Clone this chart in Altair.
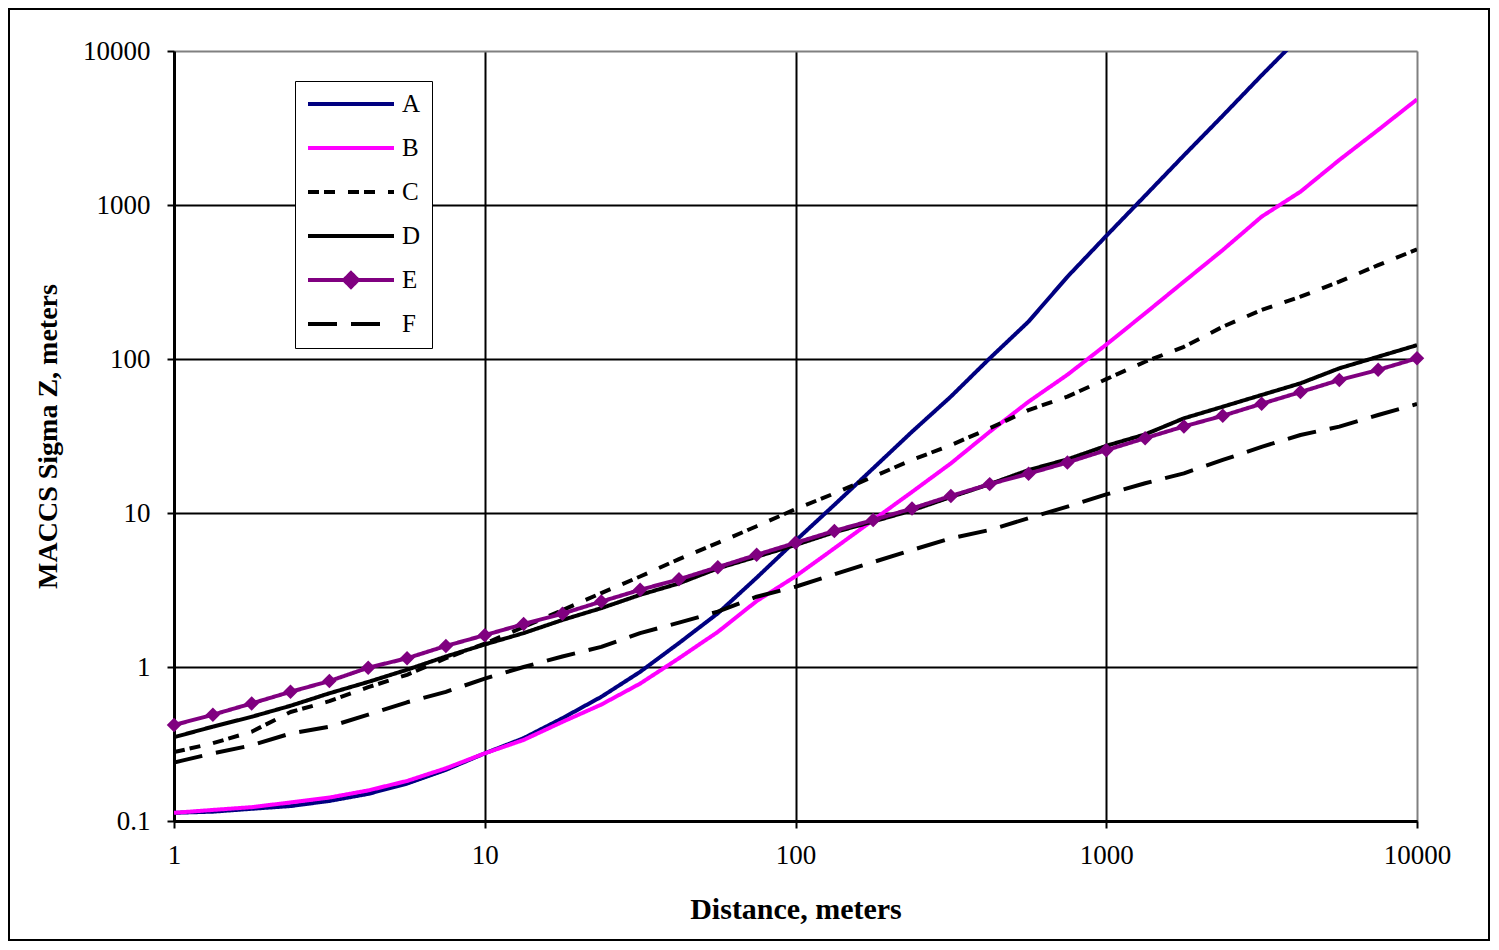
import altair as alt
import pandas as pd

# Distance grid (8 points per decade), meters
distance = [1, 1.334, 1.778, 2.371, 3.162, 4.217, 5.623, 7.499,
            10, 13.34, 17.78, 23.71, 31.62, 42.17, 56.23, 74.99,
            100, 133.4, 177.8, 237.1, 316.2, 421.7, 562.3, 749.9,
            1000, 1334, 1778, 2371, 3162, 4217, 5623, 7499, 10000]

sigma_a = [0.113, 0.115, 0.120, 0.125, 0.135, 0.150, 0.175, 0.215,
           0.275, 0.345, 0.465, 0.64, 0.93, 1.43, 2.23, 3.8,
           6.6, 11.3, 19.5, 33.7, 57, 101, 175, 342,
           630, 1150, 2100, 3800, 6950, 12500]
sigma_b = [0.113, 0.118, 0.123, 0.132, 0.142, 0.158, 0.182, 0.220,
           0.275, 0.336, 0.44, 0.57, 0.78, 1.14, 1.69, 2.68,
           3.88, 5.9, 9.0, 13.7, 21.0, 33.7, 52.8, 79,
           124, 198, 318, 510, 840, 1220, 1960, 3070, 4850]
sigma_c = [0.28, 0.32, 0.38, 0.51, 0.60, 0.74, 0.89, 1.14,
           1.42, 1.82, 2.34, 3.02, 3.87, 5.02, 6.4, 8.2,
           10.6, 13.4, 17.2, 22.1, 27.6, 35.5, 46.6, 57,
           74, 96, 120, 162, 208, 254, 318, 407, 515]
sigma_d = [0.35, 0.41, 0.475, 0.56, 0.675, 0.80, 0.96, 1.17,
           1.40, 1.66, 2.02, 2.41, 2.94, 3.49, 4.37, 5.2,
           6.2, 7.5, 8.8, 10.4, 12.7, 15.4, 19.0, 22.3,
           27.3, 32.4, 41.2, 49, 58.4, 69.5, 87, 103.5, 123]
sigma_e = [0.42, 0.49, 0.58, 0.69, 0.81, 0.99, 1.14, 1.37,
           1.61, 1.90, 2.22, 2.66, 3.17, 3.71, 4.45, 5.35,
           6.4, 7.65, 9.0, 10.7, 12.9, 15.4, 18.0, 21.3,
           25.6, 30.6, 36.5, 42.8, 51.2, 61, 73, 85, 101]
sigma_f = [0.24, 0.275, 0.31, 0.37, 0.41, 0.49, 0.59, 0.69,
           0.84, 1.0, 1.17, 1.35, 1.66, 1.94, 2.29, 2.86,
           3.32, 4.0, 4.8, 5.75, 6.85, 7.76, 9.25, 11.0,
           13.2, 15.6, 18.1, 22.1, 26.9, 32.1, 36.4, 43.3, 51]

names = ["A", "B", "C", "D", "E", "F"]
colors = ["#000080", "#FF00FF", "#000000", "#000000", "#800080", "#000000"]
dashes = [[1, 0], [1, 0], [11, 5, 11, 13], [1, 0], [1, 0], [29, 14]]
widths = [4, 4, 5, 4, 4.5, 5]
line_path = "M-1,0H1"
diamond_path = "M-1,0H1M0,-0.16L0.16,0L0,0.16L-0.16,0Z"
legend_shapes = [line_path, line_path, line_path, line_path, diamond_path, line_path]

x_ticks = [1, 10, 100, 1000, 10000]
y_ticks = [0.1, 1, 10, 100, 1000, 10000]

all_series = [sigma_a, sigma_b, sigma_c, sigma_d, sigma_e, sigma_f]
rows = []
for name, vals in zip(names, all_series):
    for xv, yv in zip(distance, vals):
        rows.append({"x": xv, "y": yv, "series": name})
df = pd.DataFrame(rows)
df_e = df[df["series"] == "E"]

FONT = "Liberation Serif"

x_axis = alt.Axis(
    values=x_ticks, format="~g", title="Distance, meters",
    grid=True, gridWidth=2,
    gridColor={"condition": {"test": "datum.value >= 10000", "value": "#808080"}, "value": "black"},
    domainColor="black", domainWidth=3, tickColor="black", tickSize=7, tickWidth=2,
    labelFont=FONT, labelFontSize=27, labelColor="black", labelPadding=14,
    labelFlush=False, labelOverlap=False,
    titleFont=FONT, titleFontSize=30, titleFontWeight="bold", titleColor="black",
    titleY=88, titleBaseline="middle",
)
y_axis = alt.Axis(
    values=y_ticks, format="~g", title="MACCS Sigma Z, meters",
    grid=True, gridWidth=2,
    gridColor={"condition": {"test": "datum.value >= 10000", "value": "#808080"}, "value": "black"},
    domainColor="black", domainWidth=3, tickColor="black", tickSize=7, tickWidth=2,
    labelFont=FONT, labelFontSize=27, labelColor="black", labelPadding=17,
    labelFlush=False, labelOverlap=False,
    titleFont=FONT, titleFontSize=28, titleFontWeight="bold", titleColor="black",
    titleX=-126, titleY=385, titleBaseline="middle",
)

x_enc = alt.X("x:Q", scale=alt.Scale(type="log", domain=[1, 10000], nice=False), axis=x_axis)
y_enc = alt.Y("y:Q", scale=alt.Scale(type="log", domain=[0.1, 10000], nice=False), axis=y_axis)

legend = alt.Legend(
    title=None, orient="none", legendX=121, legendY=30,
    strokeColor="black", fillColor="white", padding=11,
    labelFont=FONT, labelFontSize=25, labelColor="black", labelOffset=6, labelLimit=0,
    symbolSize=7396, symbolStrokeWidth=4.5, clipHeight=24, rowPadding=19,
)

stroke_enc = alt.Stroke("series:N", scale=alt.Scale(domain=names, range=colors), legend=legend)
dash_enc = alt.StrokeDash("series:N", scale=alt.Scale(domain=names, range=dashes), legend=legend)

lines = alt.Chart(df).mark_line(clip=True, opacity=1, strokeJoin="round").encode(
    x=x_enc, y=y_enc,
    stroke=stroke_enc,
    strokeDash=dash_enc,
    strokeWidth=alt.StrokeWidth("series:N", scale=alt.Scale(domain=names, range=widths), legend=None),
)

markers = alt.Chart(df_e).mark_point(
    shape="diamond", filled=True, size=210, color="#800080", opacity=1
).encode(x=x_enc, y=y_enc)

legend_layer = alt.Chart(df).transform_filter("false").mark_point(
    filled=True, opacity=1, strokeWidth=4.5
).encode(
    x=x_enc, y=y_enc,
    stroke=stroke_enc,
    strokeDash=dash_enc,
    fill=alt.Fill("series:N", scale=alt.Scale(domain=names, range=colors), legend=legend),
    shape=alt.Shape("series:N", scale=alt.Scale(domain=names, range=legend_shapes), legend=legend),
)

frame = alt.Chart(pd.DataFrame({"k": [0]})).mark_rect(
    filled=False, stroke="black", strokeWidth=2
).encode(
    x=alt.value(-165), x2=alt.value(1315), y=alt.value(-42), y2=alt.value(889)
)

chart = alt.layer(frame, lines, markers, legend_layer).properties(
    width=1243, height=770,
    autosize="none",
    padding={"left": 166, "top": 43, "right": 73, "bottom": 121},
).configure_view(
    stroke="#808080", strokeWidth=3
).configure(background="white")

chart.save("out.html", embed_options={"renderer": "svg", "actions": False})
